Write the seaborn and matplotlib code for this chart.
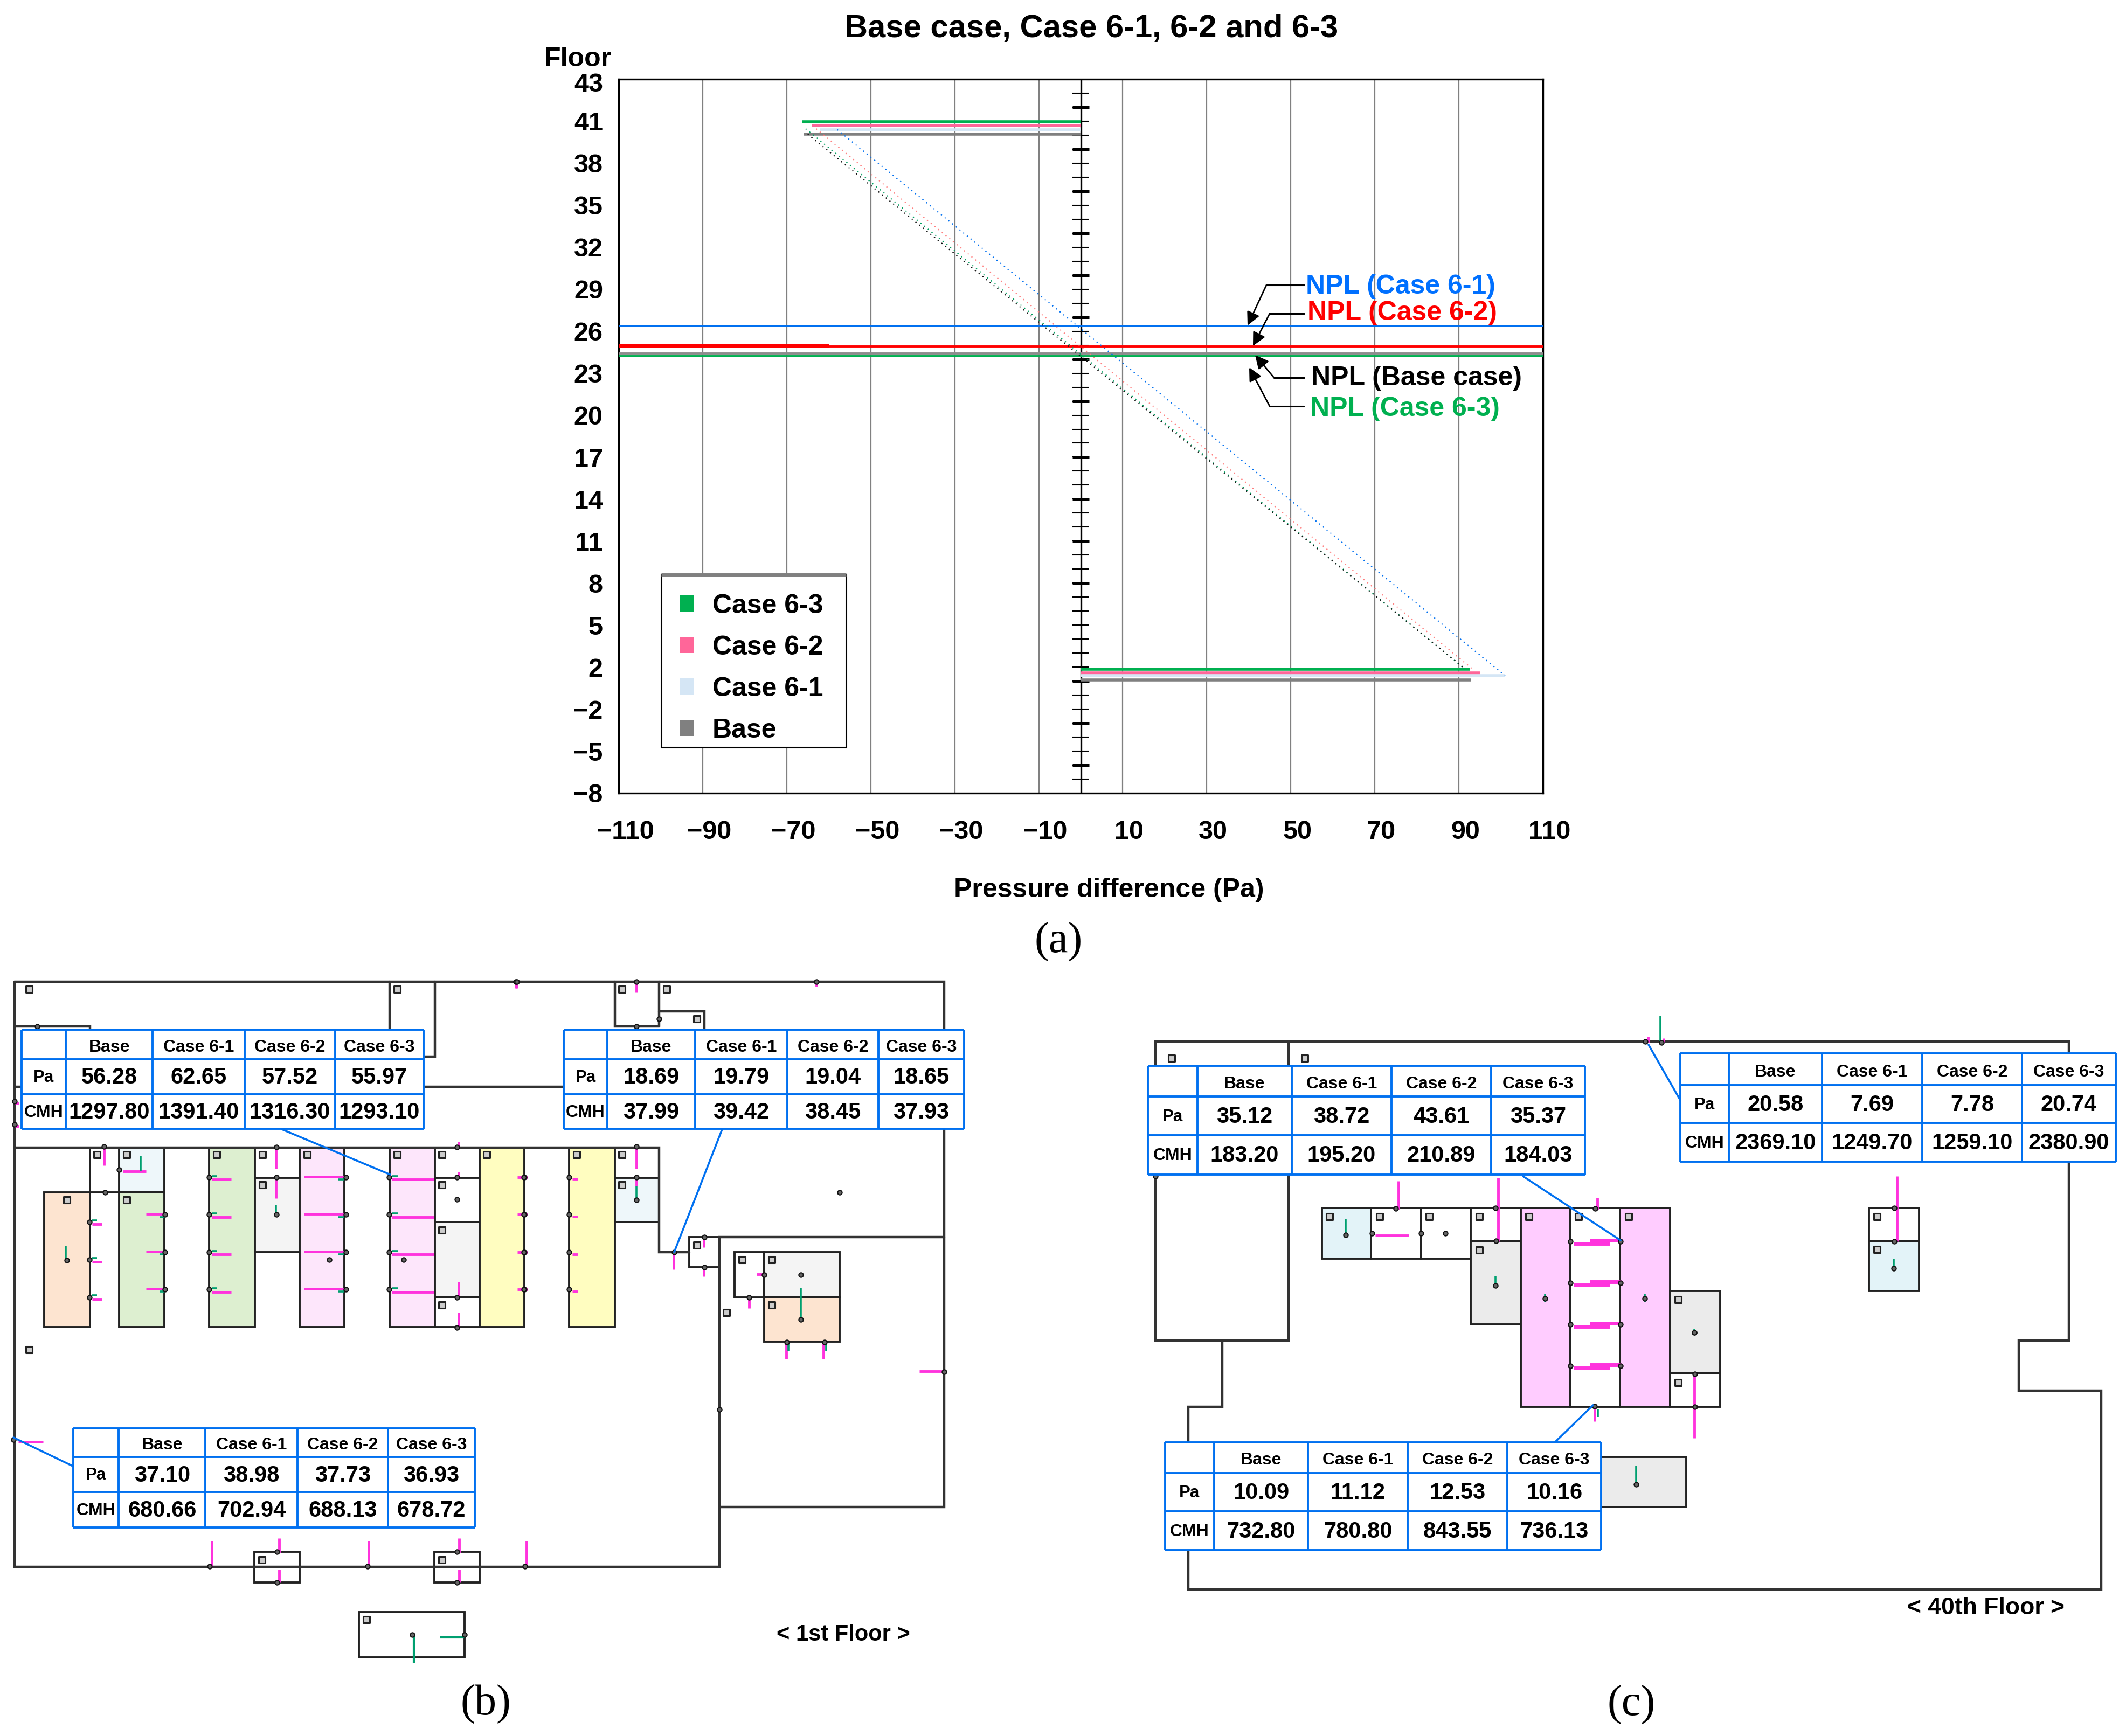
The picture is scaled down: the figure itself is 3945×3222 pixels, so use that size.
"""
Stack effect pressure profile with the 1st / 40th floor plans below it
"""

import numpy as np
import pandas as pd
import matplotlib
matplotlib.use("Agg")
import matplotlib.pyplot as plt
import seaborn as sns
from matplotlib.patches import Rectangle, Patch
from matplotlib.transforms import ScaledTranslation

W, H, DPI = 3945, 3222, 100

# ---------------- CHART DATA ----------------
CASES = ["Case 6-3", "Case 6-2", "Case 6-1", "Base"]
CASE_COLORS = ["#00B050", "#FF6699", "#D5E6F5", "#808080"]
LINE_COLORS = ["#00A060", "#FF8080", "#0070F0", "#111111"]

top_bar_x = [-66.2, -64.0, -62.0, -66.0]
top_bar_y = [39.96, 39.69, 39.38, 39.07]
bottom_bar_x = [92.5, 95.0, 101.0, 93.0]
bottom_bar_y = [0.87, 0.58, 0.39, 0.10]

line_top_x = [-65.5, -63.0, -58.0, -65.0]
line_top_y = [39.46, 39.46, 39.40, 39.07]
line_bottom_x = [91.0, 93.5, 101.0, 91.5]
line_bottom_y = [0.97, 0.80, 0.39, 0.87]

npl_cases = ["Case 6-1", "Case 6-2", "Base", "Case 6-3"]
npl_floor = [25.37, 23.90, 23.40, 23.20]
npl_colors = ["#0070F0", "#FF0000", "#8C8C8C", "#00B050"]

x_ticks = [-110, -90, -70, -50, -30, -10, 10, 30, 50, 70, 90, 110]
x_labels = ["\u2212110", "\u221290", "\u221270", "\u221250", "\u221230", "\u221210",
            "10", "30", "50", "70", "90", "110"]
y_ticks = list(range(-8, 44, 3))
y_labels = ["\u22128", "\u22125", "\u22122", "2", "5", "8", "11", "14", "17", "20",
            "23", "26", "29", "32", "35", "38", "41", "43"]
thick_ticks = [41, 38, 35, 32, 29, 26, 23, 20, 16, 13, 10, 7, 0, -3, -6]

# ---------------- TABLE DATA ----------------
table_cols = ["Base", "Case 6-1", "Case 6-2", "Case 6-3"]
t1_pa = ["56.28", "62.65", "57.52", "55.97"]
t1_cmh = ["1297.80", "1391.40", "1316.30", "1293.10"]
t2_pa = ["18.69", "19.79", "19.04", "18.65"]
t2_cmh = ["37.99", "39.42", "38.45", "37.93"]
t3_pa = ["37.10", "38.98", "37.73", "36.93"]
t3_cmh = ["680.66", "702.94", "688.13", "678.72"]
t4_pa = ["35.12", "38.72", "43.61", "35.37"]
t4_cmh = ["183.20", "195.20", "210.89", "184.03"]
t5_pa = ["20.58", "7.69", "7.78", "20.74"]
t5_cmh = ["2369.10", "1249.70", "1259.10", "2380.90"]
t6_pa = ["10.09", "11.12", "12.53", "10.16"]
t6_cmh = ["732.80", "780.80", "843.55", "736.13"]

# ---------------- FLOOR PLAN GEOMETRY (image pixels) ----------------
ORANGE, LBLUE, GREEN, GRAY = "#FDE4D0", "#EEF7FA", "#DDEFD0", "#F4F4F4"
PINK, YELLOW, WHITE = "#FDE6FB", "#FFFDC0", "#FFFFFF"
PINK_C, GRAY_C, LBLUE_C = "#FFCCFF", "#EBEBEB", "#E3F3F8"

rooms_b = [
    (82, 166.5, 2213, 2463, ORANGE), (221, 305, 2130, 2213, LBLUE), (221, 305, 2213, 2463, GREEN),
    (166.5, 221, 2130, 2213, WHITE), (388, 472.6, 2130, 2463, GREEN), (472.6, 555.5, 2130, 2185.6, WHITE),
    (472.6, 555.5, 2185.6, 2324, GRAY), (555.5, 639, 2130, 2463, PINK), (722.6, 807, 2130, 2463, PINK),
    (807, 890, 2130, 2185.6, WHITE), (807, 890, 2185.6, 2268, WHITE), (807, 890, 2268, 2407.5, GRAY),
    (807, 890, 2407.5, 2463, WHITE), (890, 972.6, 2130, 2463, YELLOW), (1056, 1140.5, 2130, 2463, YELLOW),
    (1140.5, 1223, 2130, 2186, WHITE), (1140.5, 1223, 2186, 2268, LBLUE), (1363, 1418, 2324, 2407.5, WHITE),
    (1418, 1558, 2324, 2407.5, GRAY), (1418, 1558, 2407.5, 2490, ORANGE), (1279, 1334, 2296, 2352, WHITE),
    (472, 556, 2880, 2937, WHITE), (806, 890, 2880, 2937, WHITE), (666, 862, 2992, 3075.5, WHITE),
]
walls_b = [
    [(27, 1822), (1752, 1822), (1752, 2797), (1335, 2797)],
    [(27, 1822), (27, 2908), (1335, 2908), (1335, 2296), (1752, 2296)],
    [(27, 2130), (1223, 2130), (1223, 2324), (1279, 2324)],
    [(27, 2017), (1045, 2017)],
    [(723, 1822), (723, 1961), (807, 1961), (807, 1822)],
    [(27, 1905), (167, 1905), (167, 1950)],
    [(1140.5, 1822), (1140.5, 1905), (1223, 1905)],
    [(1223, 1822), (1223, 1905)],
    [(1223, 1877), (1307, 1877), (1307, 1911)],
]
rooms_c = [
    (2452.5, 2544, 2241.5, 2336, LBLUE_C), (2544, 2637, 2241.5, 2336, WHITE), (2637, 2729, 2241.5, 2336, WHITE),
    (2729, 2822, 2241.5, 2304, WHITE), (2729, 2822, 2304, 2458, GRAY_C), (2822, 2914, 2241.5, 2611, PINK_C),
    (2914, 3006, 2241.5, 2611, WHITE), (3006, 3099, 2241.5, 2611, PINK_C), (3099, 3192, 2395.5, 2548.5, GRAY_C),
    (3099, 3192, 2548.5, 2611, WHITE), (3468, 3561, 2241.5, 2304, WHITE), (3468, 3561, 2304, 2395.5, LBLUE_C),
    (2800, 3129, 2703.6, 2797, GRAY_C),
]
walls_c = [
    [(2144, 1933), (3839, 1933), (3839, 2488), (3746, 2488), (3746, 2580.5), (3899, 2580.5), (3899, 2950),
     (2205, 2950), (2205, 2611), (2267.5, 2611), (2267.5, 2488), (2144, 2488), (2144, 1933)],
    [(2391, 1933), (2391, 2488), (2267.5, 2488)],
]

# crop coordinates of the small marks: (x0, y0, sx, sy) says which crop they were read from
CROP_B1 = (0, 1780, 1.568, 1.96)
CROP_B2 = (900, 1780, 1.6505, 1.96)
CROP_B3 = (0, 2500, 0.871, 2.172)
CROP_C1 = (2050, 1850, 0.8274, 2.24)
CROP_C2 = (2050, 2450, 0.8274, 2.031)

squares_b1 = [(85, 110), (1155, 110), (282, 711), (369, 711), (631, 711), (763, 711), (893, 711), (1155, 711),
              (1286, 711), (1416, 711), (194, 876), (369, 876), (763, 822), (1286, 822), (1286, 985), (1286, 1258),
              (85, 1421)]
squares_b2 = [(420, 110), (557, 110), (648, 218), (281, 711), (420, 711), (420, 822), (648, 1040), (787, 1094),
              (878, 1094), (878, 1258), (740, 1285)]
squares_b3 = [(423, 857), (714, 857), (592, 1100)]
squares_c1 = [(103, 255), (307, 255), (345, 913), (422, 913), (498, 913), (575, 913), (651, 913), (727, 913),
              (804, 913), (575, 1052), (880, 1258), (1186, 913), (1186, 1050)]
squares_c2 = [(880, 235)]

nodes_b1 = [(303, 682), (42, 518), (42, 601), (108, 245), (347, 767), (305, 848), (260, 957), (260, 1094), (260, 1230),
            (608, 794), (608, 930), (608, 1066), (608, 1202), (805, 684), (805, 794), (805, 930), (1007, 794),
            (1007, 930), (1007, 1066), (1007, 1202), (1132, 794), (1132, 930), (1132, 1066), (1132, 1202),
            (1329, 684), (1329, 793), (1329, 875), (1329, 1230), (1329, 1340), (1525, 794), (1525, 930),
            (1525, 1066), (1525, 1202), (480, 930), (480, 1066), (480, 1202), (958, 1094), (1175, 1094),
            (1501, 82), (194, 1095)]
nodes_b2 = [(97, 82), (463, 82), (1015, 82), (533, 218), (463, 245), (463, 682), (463, 794), (463, 876), (119, 793),
            (119, 930), (119, 1066), (119, 1202), (258, 793), (258, 930), (258, 1066), (258, 1202), (579, 1066),
            (671, 1011), (671, 1121), (1086, 848), (855, 1148), (968, 1148), (808, 1230), (968, 1312), (925, 1393),
            (1040, 1393), (1407, 1502)]
nodes_b3 = [(339, 885), (448, 826), (448, 950), (594, 885), (739, 826), (739, 950), (848, 885), (22, 373),
            (1163, 252), (666, 1160), (751, 1160)]
nodes_c1 = [(830, 185), (855, 190), (447, 880), (600, 878), (753, 880), (410, 983), (486, 983), (523, 983), (601, 1015),
            (715, 1017), (792, 1017), (715, 1190), (792, 1190), (715, 1362), (792, 1362), (1212, 878), (1212, 1017),
            (78, 745), (370, 990), (600, 1200), (676, 1255), (829, 1255), (905, 1395), (1211, 1130)]
nodes_c2 = [(715, 172), (792, 172), (906, 203), (906, 328), (752, 325), (816, 620), (905, 47)]

magenta_b1 = [(303, 685, 303, 750), (357, 772, 425, 772), (803, 690, 803, 762), (803, 795, 803, 870),
              (616, 801, 672, 801), (616, 938, 672, 938), (616, 1075, 672, 1075), (616, 1211, 672, 1211),
              (425, 928, 478, 928), (425, 1064, 478, 1064), (425, 1200, 478, 1200),
              (884, 791, 1002, 791), (884, 928, 1002, 928), (884, 1064, 1002, 1064), (884, 1200, 1002, 1200),
              (1140, 801, 1262, 801), (1140, 938, 1262, 938), (1140, 1075, 1262, 1075), (1140, 1211, 1262, 1211),
              (268, 965, 296, 965), (268, 1102, 296, 1102), (268, 1239, 296, 1239),
              (1335, 665, 1335, 690), (1335, 775, 1335, 800), (1335, 1175, 1335, 1232), (1335, 1285, 1335, 1340),
              (1505, 793, 1530, 793), (1505, 930, 1530, 930), (1505, 1066, 1530, 1066), (1505, 1202, 1530, 1202),
              (1501, 85, 1501, 105), (42, 525, 55, 525), (42, 608, 55, 608)]
magenta_b2 = [(97, 85, 97, 105), (463, 85, 463, 122), (1015, 85, 1015, 100), (463, 690, 463, 762), (463, 795, 463, 825),
              (105, 793, 130, 793), (105, 930, 130, 930), (105, 1066, 130, 1066), (105, 1202, 130, 1202),
              (268, 800, 284, 800), (268, 937, 284, 937), (268, 1074, 284, 1074), (268, 1210, 284, 1210),
              (577, 1070, 577, 1128), (670, 1015, 670, 1048), (670, 1125, 670, 1155), (832, 1146, 855, 1146),
              (808, 1232, 808, 1270), (922, 1395, 922, 1455), (1037, 1395, 1037, 1455), (1330, 1500, 1405, 1500)]
magenta_b3 = [(342, 782, 342, 885), (451, 770, 451, 830), (451, 897, 451, 950), (596, 782, 596, 885),
              (742, 770, 742, 830), (742, 897, 742, 950), (851, 782, 851, 885), (30, 382, 70, 382)]
magenta_c1 = [(451, 765, 451, 885), (604, 752, 604, 1017), (756, 835, 756, 885), (1216, 745, 1216, 1017),
              (415, 992, 467, 992), (834, 165, 834, 190), (858, 172, 858, 190)]
magenta_c2 = [(905, 205, 905, 445), (752, 330, 752, 382)]

green_b1 = [(192, 1045, 192, 1095), (410, 715, 410, 770), (803, 895, 803, 935),
            (268, 951, 282, 951), (268, 1088, 282, 1088), (268, 1224, 282, 1224),
            (616, 790, 632, 790), (616, 926, 632, 926), (616, 1062, 632, 1062), (616, 1198, 632, 1198),
            (985, 802, 1002, 802), (985, 938, 1002, 938), (985, 1074, 1002, 1074), (985, 1210, 1002, 1210),
            (1142, 790, 1158, 790), (1142, 926, 1158, 926), (1142, 1062, 1158, 1062), (1142, 1198, 1158, 1198),
            (465, 938, 480, 938), (465, 1074, 480, 1074), (465, 1210, 480, 1210)]
green_b2 = [(463, 825, 463, 878), (968, 1195, 968, 1315), (930, 1395, 930, 1425), (1045, 1395, 1045, 1425)]
green_b3 = [(669, 1160, 669, 1272), (712, 1170, 751, 1170)]
green_c1 = [(853, 80, 853, 190), (370, 925, 370, 990), (600, 1160, 600, 1200), (676, 1235, 676, 1270),
            (829, 1235, 829, 1270), (905, 1380, 905, 1405), (1211, 1090, 1211, 1130)]
green_c2 = [(816, 550, 816, 620), (757, 335, 757, 365)]

stair_rows_c = [2304, 2381, 2458, 2535]

callouts = [((523, 2096), (724, 2180)), ((1340, 2096), (1251, 2324)), ((135, 2721), (25, 2668)),
            ((2826, 2183), (3007, 2302)), ((3059, 1939), (3118, 2042)), ((2886, 2676), (2956, 2608))]


def from_crop(seq, crop):
    x0, y0, sx, sy = crop
    arr = np.array(seq, dtype=float)
    arr[:, ::2] = x0 + arr[:, ::2] / sx
    arr[:, 1::2] = y0 + arr[:, 1::2] / sy
    return arr


# ---------------- STYLE ----------------
sns.set_theme(style="white")
plt.rcParams["font.family"] = ["Liberation Sans", "DejaVu Sans"]
plt.rcParams["font.weight"] = "bold"

fig = plt.figure(figsize=(W / DPI, H / DPI), dpi=DPI, facecolor="white")
ax = fig.add_axes([1148 / W, 1 - 1472 / H, 1715 / W, 1325 / H])

# ---------------- PROFILE CHART ----------------
bars = pd.DataFrame({
    "case": CASES * 4,
    "x": top_bar_x + [0.0] * 4 + bottom_bar_x + [0.0] * 4,
    "y": top_bar_y * 2 + bottom_bar_y * 2,
    "part": ["top"] * 8 + ["bottom"] * 8,
})
lines = pd.DataFrame({
    "case": CASES * 2,
    "x": line_top_x + line_bottom_x,
    "y": line_top_y + line_bottom_y,
})

ax.set_xlim(-110, 110)
ax.set_ylim(-8, 43)
ax.set_xticks(x_ticks)
ax.set_xticklabels(x_labels, fontsize=35, fontweight="bold", color="black")
ax.set_yticks(y_ticks)
ax.set_yticklabels(y_labels, fontsize=35, fontweight="bold", color="black")
ax.tick_params(axis="x", length=0, pad=36)
ax.tick_params(axis="y", length=0, pad=21)
ax.xaxis.grid(True, color="#808080", lw=1.6)
ax.set_axisbelow(True)
for side in ax.spines.values():
    side.set_color("black")
    side.set_linewidth(2.4)

shift = ScaledTranslation(12 / DPI, 0, fig.dpi_scale_trans)
for lab in ax.get_xticklabels():
    lab.set_transform(lab.get_transform() + shift)
top_label = ax.get_yticklabels()[-1]
top_label.set_transform(top_label.get_transform() + ScaledTranslation(0, -6 / DPI, fig.dpi_scale_trans))

ax.axvline(0, color="black", lw=2.4, zorder=2)
minor_floor = np.arange(-7, 43)
ax.hlines(minor_floor, -2.0, 2.0, color="black", lw=1.5, zorder=2)
ax.hlines(thick_ticks, -2.0, 2.0, color="black", lw=3.6, zorder=2)

for part in ["top", "bottom"]:
    sns.lineplot(data=bars[bars["part"] == part], x="x", y="y", hue="case", hue_order=CASES,
                 palette=CASE_COLORS, estimator=None, sort=False, lw=4, legend=False, ax=ax,
                 solid_capstyle="butt", zorder=4)

sns.lineplot(data=lines, x="x", y="y", hue="case", hue_order=CASES, palette=LINE_COLORS,
             estimator=None, sort=False, lw=1.6, linestyle=(0, (1, 3)), legend=False, ax=ax, zorder=5)

ax.hlines(npl_floor, -110, 110, colors=npl_colors, lw=2.8, zorder=3)
ax.plot([-110, -60], [npl_floor[1] + 0.06] * 2, color="#FF0000", lw=4.5, solid_capstyle="butt", zorder=3)
ax.set_xlabel("")
ax.set_ylabel("")

# ---------------- OVERLAY IN IMAGE PIXELS ----------------
ov = fig.add_axes([0, 0, 1, 1], facecolor="none")
ov.set_xlim(0, W)
ov.set_ylim(H, 0)
ov.axis("off")


def txt(x, y, s, size, color="black", ha="center", **kw):
    ov.text(x, y, s, fontsize=size, color=color, ha=ha, va="center", fontweight=kw.pop("weight", "bold"), **kw)


txt(2025, 53, "Base case, Case 6-1, 6-2 and 6-3", 43)
txt(1072, 110, "Floor", 36)
txt(2058, 1652, "Pressure difference (Pa)", 36)

serif = ["Liberation Serif", "DejaVu Serif"]
txt(1964, 1748, "(a)", 58, weight="normal", family=serif)
txt(901, 3163, "(b)", 58, weight="normal", family=serif)
txt(3027, 3164, "(c)", 58, weight="normal", family=serif)
txt(1565, 3034, "< 1st Floor >", 30)
txt(3685, 2985, "< 40th Floor >", 32)

# NPL notes
txt(2423, 532, "NPL (Case 6-1)", 36, color="#0070FF", ha="left")
txt(2426, 581, "NPL (Case 6-2)", 36, color="#FF0000", ha="left")
txt(2433, 702, "NPL (Base case)", 36, ha="left")
txt(2431, 759, "NPL (Case 6-3)", 36, color="#00B050", ha="left")
npl_arrows = [[(2420, 529), (2350, 529), (2315, 604)], [(2420, 582), (2356, 582), (2325, 642)],
              [(2420, 701), (2364, 701), (2329, 659)], [(2419, 754), (2356, 754), (2318, 682)]]
for a, b, c in npl_arrows:
    ov.plot([a[0], b[0]], [a[1], b[1]], color="black", lw=2.2)
    ov.annotate("", xy=c, xytext=b, arrowprops=dict(arrowstyle="-|>,head_length=1.0,head_width=0.5",
                                                    color="black", lw=2.0, shrinkA=0, shrinkB=0, mutation_scale=15))

# legend box
ov.add_patch(Rectangle((1227, 1066), 343, 321, fc="white", ec="black", lw=2.2, zorder=5))
ov.plot([1227, 1570], [1067, 1067], color="#808080", lw=5, solid_capstyle="butt", zorder=6)
handles = [Patch(fc=c, ec="none", label=n) for c, n in zip(CASE_COLORS, CASES)]
ov.legend(handles=handles, loc="upper left", bbox_to_anchor=(1262 / W, 1 - 1102 / H), bbox_transform=fig.transFigure,
          frameon=False, fontsize=36, borderpad=0, borderaxespad=0, handlelength=0.52, handleheight=0.54,
          handletextpad=0.68, labelspacing=0.62, labelcolor="black").set_zorder(7)


def draw_plan(rooms, walls):
    for x0, x1, y0, y1, c in rooms:
        ov.add_patch(Rectangle((x0, y0), x1 - x0, y1 - y0, fc=c, ec="#222222", lw=2.8, zorder=1))
    for wall in walls:
        xs, ys = zip(*wall)
        ov.plot(xs, ys, color="#333333", lw=3.2, zorder=1.5, solid_joinstyle="miter")


def draw_segments(segs, color, lw=3.5):
    for x0, y0, x1, y1 in segs:
        ov.plot([x0, x1], [y0, y1], color=color, lw=lw, solid_capstyle="butt", zorder=2)


def draw_table(xs, ys, pa, cmh):
    ov.add_patch(Rectangle((xs[0], ys[0]), xs[-1] - xs[0], ys[-1] - ys[0], fc="white", ec="none", zorder=8))
    ov.vlines(xs, ys[0], ys[-1], color="#0070F0", lw=2.8, zorder=9)
    ov.hlines(ys, xs[0], xs[-1], color="#0070F0", lw=2.8, zorder=9)
    xc = [(a + b) / 2 for a, b in zip(xs[:-1], xs[1:])]
    yc = [(a + b) / 2 for a, b in zip(ys[:-1], ys[1:])]
    for i, name in enumerate(table_cols):
        txt(xc[i + 1], yc[0] + 5, name, 23, zorder=10)
        txt(xc[i + 1], yc[1] + 2, pa[i], 30, zorder=10)
        txt(xc[i + 1], yc[2] + 2, cmh[i], 30, zorder=10)
    txt(xc[0], yc[1] + 2, "Pa", 22.5, zorder=10)
    txt(xc[0], yc[2] + 2, "CMH", 23, zorder=10)


draw_plan(rooms_b, walls_b)
draw_plan(rooms_c, walls_c)

draw_segments(from_crop(magenta_b1, CROP_B1), "#FF33DD")
draw_segments(from_crop(magenta_b2, CROP_B2), "#FF33DD")
draw_segments(from_crop(magenta_b3, CROP_B3), "#FF33DD")
draw_segments(from_crop(magenta_c1, CROP_C1), "#FF33DD")
draw_segments(from_crop(magenta_c2, CROP_C2), "#FF33DD")
draw_segments(from_crop(green_b1, CROP_B1), "#00A070", lw=2.6)
draw_segments(from_crop(green_b2, CROP_B2), "#00A070", lw=2.6)
draw_segments(from_crop(green_b3, CROP_B3), "#00A070", lw=3)
draw_segments(from_crop(green_c1, CROP_C1), "#00A070", lw=2.6)
draw_segments(from_crop(green_c2, CROP_C2), "#00A070", lw=2.6)
for row in stair_rows_c:
    ov.plot([2950, 3008], [row - 2, row - 2], color="#FF33DD", lw=5, solid_capstyle="butt", zorder=2)
    ov.plot([2920, 2987], [row + 4, row + 4], color="#FF33DD", lw=5, solid_capstyle="butt", zorder=2)

nodes = np.vstack([from_crop(nodes_b1, CROP_B1), from_crop(nodes_b2, CROP_B2), from_crop(nodes_b3, CROP_B3),
                   from_crop(nodes_c1, CROP_C1), from_crop(nodes_c2, CROP_C2)])
ov.scatter(nodes[:, 0], nodes[:, 1], s=36, fc="#666666", ec="#111111", lw=1.5, zorder=3)
squares = np.vstack([from_crop(squares_b1, CROP_B1), from_crop(squares_b2, CROP_B2), from_crop(squares_b3, CROP_B3),
                     from_crop(squares_c1, CROP_C1), from_crop(squares_c2, CROP_C2)])
ov.scatter(squares[:, 0], squares[:, 1], s=80, marker="s", fc="#CCCCCC", ec="#222222", lw=2.2, zorder=3)

for p, q in callouts:
    ov.plot([p[0], q[0]], [p[1], q[1]], color="#0070F0", lw=2.6, zorder=7)

draw_table([39.5, 122.4, 283, 454, 622, 786], [1911, 1966, 2030.5, 2095], t1_pa, t1_cmh)
draw_table([1046, 1127, 1290, 1461, 1630, 1789], [1911, 1966, 2030.5, 2095], t2_pa, t2_cmh)
draw_table([135.5, 220.4, 381, 552, 720, 880.6], [2650.5, 2704, 2769, 2835], t3_pa, t3_cmh)
draw_table([2130, 2221.6, 2397, 2582, 2767, 2941], [1978, 2035, 2107, 2179.5], t4_pa, t4_cmh)
draw_table([3118, 3208, 3381, 3567, 3752, 3926], [1955, 2014, 2084, 2156], t5_pa, t5_cmh)
draw_table([2162, 2253, 2427, 2612, 2797, 2971], [2676.5, 2734, 2804.5, 2877], t6_pa, t6_cmh)

fig.savefig("out.png", dpi=DPI)
